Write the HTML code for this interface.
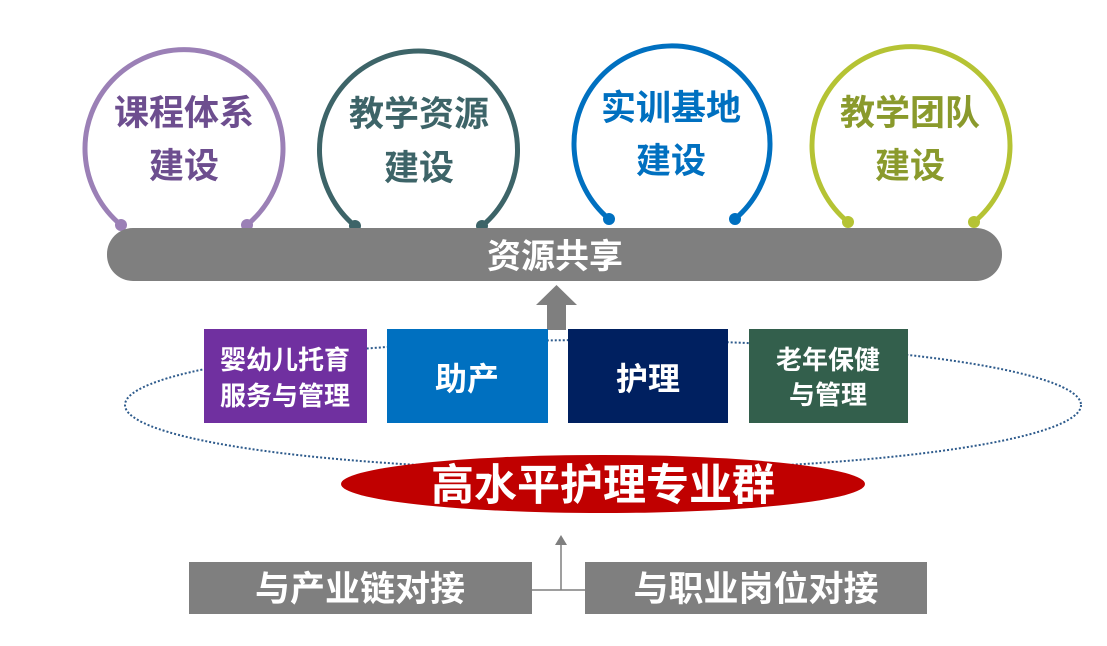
<!DOCTYPE html>
<html><head><meta charset="utf-8"><style>
html,body{margin:0;padding:0;background:#fff;}
svg{display:block;}
text{font-family:"Liberation Sans","Noto Sans CJK SC",sans-serif;font-weight:bold;text-anchor:middle;}
</style></head><body>
<svg width="1107" height="646" viewBox="0 0 1107 646" xmlns="http://www.w3.org/2000/svg">
<ellipse cx="603" cy="405" rx="478" ry="65" fill="none" stroke="#2e5b8c" stroke-width="2" stroke-dasharray="2 2"/>
<path d="M121,225 A99,99 0 1 1 247,225" fill="none" stroke="#9b80b6" stroke-width="5"/>
<circle cx="121" cy="225" r="6" fill="#9b80b6"/><circle cx="247" cy="225" r="6" fill="#9b80b6"/>
<text x="184" y="125" font-size="35" fill="#6d4e8f">课程体系</text>
<text x="184" y="178" font-size="35" fill="#6d4e8f">建设</text>

<path d="M355,226 A99,99 0 1 1 482,226" fill="none" stroke="#3d6468" stroke-width="5"/>
<circle cx="355" cy="226" r="6" fill="#3d6468"/><circle cx="482" cy="226" r="6" fill="#3d6468"/>
<text x="419" y="126" font-size="35" fill="#3d6468">教学资源</text>
<text x="419" y="180" font-size="35" fill="#3d6468">建设</text>

<path d="M609,219 A98,98 0 1 1 735,219" fill="none" stroke="#0070c0" stroke-width="5"/>
<circle cx="609" cy="219" r="6" fill="#0070c0"/><circle cx="735" cy="219" r="6" fill="#0070c0"/>
<text x="671" y="120" font-size="35" fill="#0070c0">实训基地</text>
<text x="671" y="173" font-size="35" fill="#0070c0">建设</text>

<path d="M848,222 A99,99 0 1 1 974,222" fill="none" stroke="#b5c334" stroke-width="5"/>
<circle cx="848" cy="222" r="6" fill="#b5c334"/><circle cx="974" cy="222" r="6" fill="#b5c334"/>
<text x="910" y="125" font-size="35" fill="#8a9a2c">教学团队</text>
<text x="910" y="178" font-size="35" fill="#8a9a2c">建设</text>

<rect x="107" y="228" width="895" height="53" rx="26" fill="#7f7f7f"/>
<text x="555" y="268" font-size="34" fill="#fff">资源共享</text>
<polygon points="547,330 547,305 536,305 556.5,285 577,305 566,305 566,330" fill="#7f7f7f"/>
<rect x="204" y="329" width="163" height="94" fill="#7030a0"/>
<text x="285" y="369" font-size="26" fill="#fff" font-weight="normal">婴幼儿托育</text>
<text x="285" y="405" font-size="26" fill="#fff" font-weight="normal">服务与管理</text>
<rect x="387" y="329" width="161" height="94" fill="#0070c0"/>
<text x="467" y="390" font-size="32" fill="#fff">助产</text>
<rect x="568" y="329" width="160" height="94" fill="#002060"/>
<text x="648" y="390" font-size="32" fill="#fff">护理</text>
<rect x="749" y="329" width="159" height="94" fill="#335f4c"/>
<text x="828" y="369" font-size="26" fill="#fff">老年保健</text>
<text x="828" y="404" font-size="26" fill="#fff">与管理</text>
<ellipse cx="603" cy="484" rx="262" ry="29" fill="#c00000"/>
<text x="603" y="500" font-size="43" fill="#fff">高水平护理专业群</text>
<line x1="532" y1="590" x2="585" y2="590" stroke="#7f7f7f" stroke-width="1.5"/>
<line x1="561" y1="590" x2="561" y2="543" stroke="#7f7f7f" stroke-width="1.5"/>
<polygon points="555,545 561,535 567,545" fill="#7f7f7f"/>
<rect x="189" y="562" width="343" height="52" fill="#7f7f7f"/>
<text x="360" y="601" font-size="35" fill="#fff">与产业链对接</text>
<rect x="585" y="562" width="342" height="52" fill="#7f7f7f"/>
<text x="756" y="601" font-size="35" fill="#fff">与职业岗位对接</text>
</svg>
</body></html>
